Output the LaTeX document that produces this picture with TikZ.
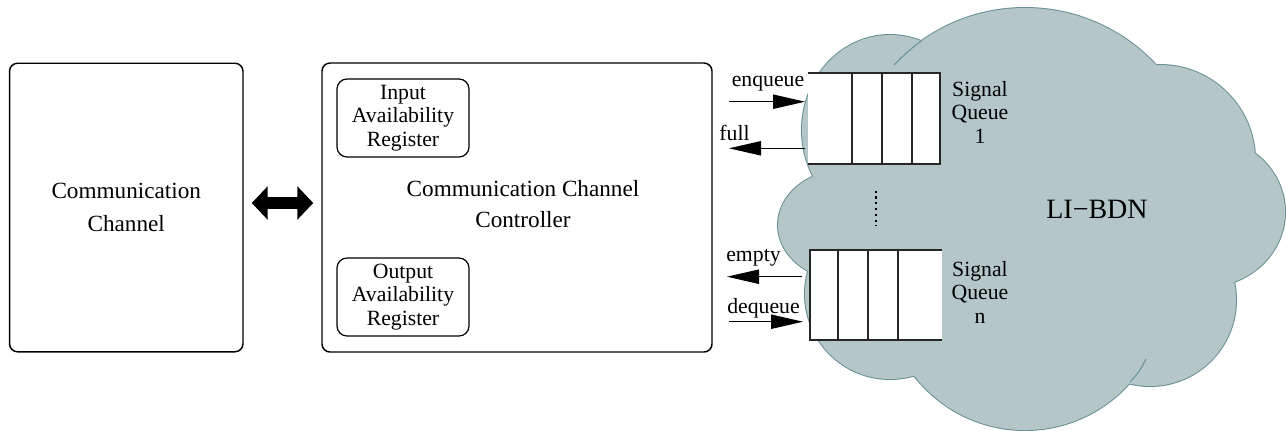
\documentclass[tikz,border=0pt]{standalone}
\usepackage{fontspec}
\setmainfont{Liberation Serif}
\usetikzlibrary{arrows.meta}
\definecolor{cloudfill}{RGB}{180,198,200}
\definecolor{cloudedge}{RGB}{104,144,148}
\begin{document}
\begin{tikzpicture}[x=0.75pt,y=-0.75pt,
  box/.style={draw,line width=1.1pt,rounded corners=6pt,inner sep=0pt},
  regbox/.style={draw,line width=0.9pt,rounded corners=7.5pt,minimum width=99pt,minimum height=58.5pt,inner sep=0pt,align=center,font=\fontsize{16.3}{17.5}\selectfont},
  bigtxt/.style={align=center,font=\fontsize{17.4}{23}\selectfont},
  smalltxt/.style={align=center,font=\fontsize{16.3}{17.6}\selectfont,inner sep=0pt},
  qbox/.style={fill=white,inner sep=0pt,outer sep=0pt,minimum width=99pt},
  qline/.style={line width=0.8pt,draw=black!85},
  sig/.style={line width=0.75pt,-{Triangle[length=24pt,width=10.75pt]}},
  cloudline/.style={draw=cloudedge,line width=0.75pt}
]
\useasboundingbox (0,0) rectangle (1286,430);

% cloud: stroked outlines first, then fill covers inner halves
\foreach \cx/\cy/\rx/\ry in {890/130/88/95,1025/187/179/179,1160/160/95/95,1205/212/80/75,1150/300/86/86,1025/290/140/140,890/294/85/85,845/225/67/55}
  \draw[cloudedge,line width=1.5pt] (\cx,\cy) ellipse [x radius=\rx*0.75pt,y radius=\ry*0.75pt];
\foreach \cx/\cy/\rx/\ry in {890/130/88/95,1025/187/179/179,1160/160/95/95,1205/212/80/75,1150/300/86/86,1025/290/140/140,890/294/85/85,845/225/67/55}
  \fill[cloudfill] (\cx,\cy) ellipse [x radius=\rx*0.75pt,y radius=\ry*0.75pt];
% visible inner arc fragments
\draw[cloudline] plot[smooth] coordinates {(921,41) (907.6,51.9) (894,65)};
\draw[cloudline] plot[smooth] coordinates {(1130,382) (1139,371.3) (1146,359)};

% left box
\node[box,bigtxt,minimum width=175.1pt,minimum height=216.4pt,font=\fontsize{17.4}{24.5}\selectfont] (chan) at (126.25,207.5) {Communication\\Channel};

% controller box
\node[box,minimum width=292.5pt,minimum height=216.75pt] (ctrl) at (517,207.5) {};
\node[bigtxt] (ctrltxt) at (523,204) {Communication Channel\\Controller};
\node[regbox] (inreg) at (403,118) {Input\\Availability\\Register};
\node[regbox] (outreg) at (403,297) {Output\\Availability\\Register};

% double arrow
\coordinate (ay) at (0,203);
\draw[line width=9.5pt,{Triangle[length=12pt,width=24.5pt]}-{Triangle[length=12pt,width=24.5pt]},shorten <=6pt,shorten >=6pt]
  (chan.east |- ay) -- (ctrl.west |- ay);

% queues
\node[qbox,minimum height=68.25pt] (q1) at (874,118.5) {};
\draw[qline] (q1.north west) -- (q1.north east) -- (q1.south east) -- (q1.south west);
\foreach \d in {33,55.5,78}
  \draw[qline] ([xshift=\d pt]q1.north west) -- ([xshift=\d pt]q1.south west);
\node[qbox,minimum height=67.5pt] (qn) at (876,295) {};
\draw[qline] (qn.north east) -- (qn.north west) -- (qn.south west) -- (qn.south east);
\foreach \d in {21,43.5,66}
  \draw[qline] ([xshift=\d pt]qn.north west) -- ([xshift=\d pt]qn.south west);

% dots between queues
\draw[line width=1.6pt,dash pattern=on 1.6pt off 2.75pt,shorten <=20pt,shorten >=18pt]
  ([xshift=1.5pt]q1.south) -- ([xshift=1.5pt]q1.south |- qn.north);

% queue labels
\node[smalltxt] (q1lab) at (980,112) {Signal\\Queue\\1};
\node[smalltxt] (qnlab) at (980,292) {Signal\\Queue\\n};
\node[font=\fontsize{21}{25}\selectfont,inner sep=0pt] (libdn) at (1097,209.5) {LI−BDN};

% signal arrows
\coordinate (enqS) at (729,101.7);
\coordinate (fullE) at (729,148.3);
\coordinate (emptyE) at (727,276.7);
\coordinate (deqS) at (729,321.7);
\draw[sig,shorten >=2.25pt] (enqS) -- (enqS -| q1.west);
\draw[sig,shorten <=2.25pt] (fullE -| q1.west) -- (fullE);
\draw[sig,shorten <=6pt] (emptyE -| qn.west) -- (emptyE);
\draw[sig,shorten >=5.25pt] (deqS) -- (deqS -| qn.west);
\node[smalltxt,anchor=base] (enqL) at (768,86.7) {enqueue};
\node[smalltxt,anchor=base] (fullL) at (734.5,140) {full};
\node[smalltxt,anchor=base] (emptyL) at (753.5,261) {empty};
\node[smalltxt,anchor=base] (deqL) at (763.5,313) {dequeue};
\end{tikzpicture}
\end{document}
